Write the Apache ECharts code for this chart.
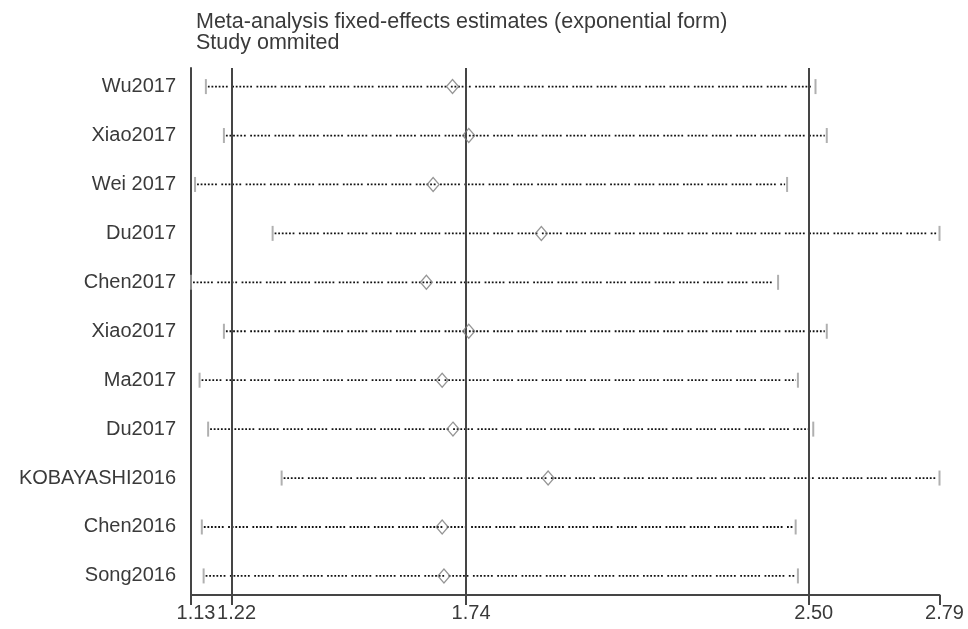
<!DOCTYPE html>
<html>
<head>
<meta charset="utf-8">
<script src="https://cdn.jsdelivr.net/npm/echarts@6/dist/echarts.min.js"></script>
<style>
  html, body { margin: 0; padding: 0; background: #fff; }
  #chart { width: 968px; height: 629px; }
</style>
</head>
<body>
<div id="chart"></div>
<script>
// Influence analysis: pooled estimate with each study left out in turn
const studies = ['Wu2017', 'Xiao2017', 'Wei 2017', 'Du2017', 'Chen2017', 'Xiao2017',
                 'Ma2017', 'Du2017', 'KOBAYASHI2016', 'Chen2016', 'Song2016'];
const estimate = [1.710, 1.746, 1.667, 1.907, 1.652, 1.746, 1.687, 1.711, 1.922, 1.687, 1.691];
const lowerCI  = [1.163, 1.203, 1.139, 1.311, 1.130, 1.203, 1.149, 1.168, 1.331, 1.154, 1.158];
const upperCI  = [2.515, 2.540, 2.452, 2.790, 2.432, 2.540, 2.476, 2.510, 2.790, 2.471, 2.476];
// Full-sample pooled estimate: lower bound, point estimate, upper bound
const pooled = [1.22, 1.74, 2.50];
const xTicks = [1.13, 1.22, 1.74, 2.50, 2.79];

const rows = studies.map((_, i) => i + 1);
const FONT = 'Liberation Sans, Arial, sans-serif';
const AXIS_COLOR = '#454545';

const chart = echarts.init(document.getElementById('chart'));

chart.setOption({
  animation: false,
  title: {
    text: 'Meta-analysis fixed-effects estimates (exponential form)\nStudy ommited',
    left: 191,
    top: 7,
    textStyle: {
      fontFamily: FONT,
      fontSize: 21.5,
      fontWeight: 'normal',
      color: '#3a3a3a',
      lineHeight: 21
    }
  },
  grid: { left: 191, right: 28.5, top: 68, bottom: 34 },
  xAxis: {
    type: 'value',
    min: 1.13,
    max: 2.79,
    splitLine: { show: false },
    axisLine: { show: true, lineStyle: { color: AXIS_COLOR, width: 2 } },
    axisTick: {
      show: true,
      customValues: xTicks,
      length: 10,
      lineStyle: { color: AXIS_COLOR, width: 2 }
    },
    axisLabel: {
      customValues: xTicks,
      formatter: v => v.toFixed(2),
      fontFamily: FONT,
      fontSize: 20,
      color: '#3a3a3a',
      margin: 8,
      padding: [0, 0, 0, 10],
      hideOverlap: false,
      showMinLabel: true,
      showMaxLabel: true
    }
  },
  yAxis: {
    type: 'value',
    inverse: true,
    min: 0.62,
    max: 11.39,
    splitLine: { show: false },
    axisLine: { show: true, lineStyle: { color: AXIS_COLOR, width: 2 } },
    axisTick: { show: false },
    axisLabel: {
      customValues: rows,
      formatter: v => studies[Math.round(v) - 1],
      fontFamily: FONT,
      fontSize: 20,
      color: '#3a3a3a',
      margin: 15,
      padding: [0, 0, 6, 0],
      hideOverlap: false
    }
  },
  series: [
    {
      // dotted confidence-interval segments
      type: 'custom',
      silent: true,
      z: 3,
      data: rows.map((r, i) => [lowerCI[i], upperCI[i], r]),
      encode: { x: [0, 1], y: 2 },
      renderItem: (params, api) => {
        const y = api.value(2);
        const a = api.coord([api.value(0), y]);
        const b = api.coord([api.value(1), y]);
        return {
          type: 'line',
          shape: { x1: a[0] + 2, y1: a[1], x2: b[0] - 2, y2: b[1] },
          style: {
            stroke: '#111',
            lineWidth: 1.8,
            lineDash: [1.8, 1.8, 1.8, 1.8, 1.8, 1.8, 1.8, 1.8, 1.8, 1.8, 1.8, 4.5]
          }
        };
      },
      markLine: {
        silent: true,
        symbol: 'none',
        label: { show: false },
        lineStyle: { type: 'solid', color: AXIS_COLOR, width: 2 },
        data: pooled.map(v => ({ xAxis: v }))
      }
    },
    {
      // interval end caps
      type: 'scatter',
      silent: true,
      z: 4,
      symbol: 'rect',
      symbolSize: [2, 15],
      itemStyle: { color: '#9c9c9c' },
      data: rows.map((r, i) => [lowerCI[i], r]).concat(rows.map((r, i) => [upperCI[i], r]))
    },
    {
      // point estimates with the study omitted
      type: 'scatter',
      silent: true,
      z: 5,
      symbol: 'diamond',
      symbolSize: [12, 14],
      itemStyle: { color: 'rgba(255,255,255,0)', borderColor: '#7a7a7a', borderWidth: 1.3 },
      data: rows.map((r, i) => [estimate[i], r])
    }
  ]
});
</script>
</body>
</html>
